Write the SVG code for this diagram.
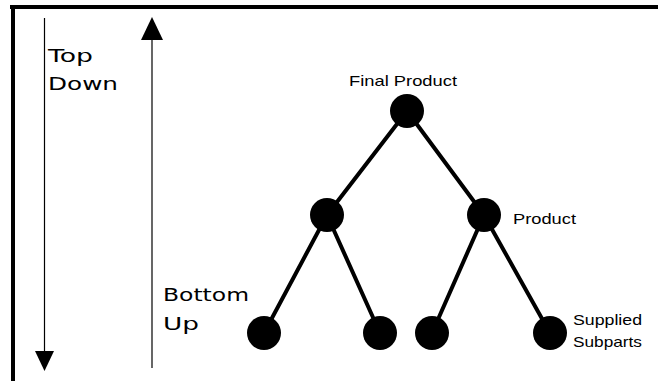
<svg xmlns="http://www.w3.org/2000/svg" width="658" height="381" viewBox="0 0 658 381">
<style>
.frame{fill:#000}
.axis{stroke:#000;stroke-width:1.2;fill:none}
.edge{stroke:#000;stroke-width:4;stroke-linecap:round}
.node{fill:#000}
.big{font-family:"DejaVu Sans",sans-serif;font-size:18px;fill:#000}
.lbl{font-family:"Liberation Sans",Arial,sans-serif;font-size:15px;fill:#000}
</style>
<rect width="658" height="381" fill="#fff"/>
<g id="frame">
<rect class="frame" x="10" y="5" width="648" height="4"/>
<rect class="frame" x="11" y="5" width="4" height="376"/>
</g>
<g id="axes">
<line class="axis" x1="44.5" y1="18" x2="44.5" y2="352"/>
<polygon points="35,351 54,351 44.5,371" fill="#000"/>
<line class="axis" x1="152" y1="38" x2="152" y2="368"/>
<polygon points="141,40 163,40 152,17" fill="#000"/>
<text class="big" x="48" y="62" textLength="45" lengthAdjust="spacingAndGlyphs">Top</text>
<text class="big" x="48" y="90" textLength="70" lengthAdjust="spacingAndGlyphs">Down</text>
<text class="big" x="163" y="301" textLength="86" lengthAdjust="spacingAndGlyphs">Bottom</text>
<text class="big" x="163" y="330" textLength="36" lengthAdjust="spacingAndGlyphs">Up</text>
</g>
<g id="connectors">
<line class="edge" x1="407" y1="111" x2="327" y2="215"/>
<line class="edge" x1="407" y1="111" x2="484" y2="215"/>
<line class="edge" x1="327" y1="215" x2="264" y2="333"/>
<line class="edge" x1="327" y1="215" x2="380" y2="333"/>
<line class="edge" x1="484" y1="215" x2="432" y2="333"/>
<line class="edge" x1="484" y1="215" x2="550" y2="333"/>
</g>
<g id="node-final">
<circle class="node" cx="407" cy="111" r="17"/>
<text class="lbl" x="349" y="86" textLength="108" lengthAdjust="spacingAndGlyphs">Final Product</text>
</g>
<g id="node-mid-left"><circle class="node" cx="327" cy="215" r="17"/></g>
<g id="node-mid-right">
<circle class="node" cx="484" cy="215" r="17"/>
<text class="lbl" x="513" y="224" textLength="63" lengthAdjust="spacingAndGlyphs">Product</text>
</g>
<g id="node-b1"><circle class="node" cx="264" cy="333" r="17"/></g>
<g id="node-b2"><circle class="node" cx="380" cy="333" r="17"/></g>
<g id="node-b3"><circle class="node" cx="432" cy="333" r="17"/></g>
<g id="node-b4">
<circle class="node" cx="550" cy="333" r="17"/>
<text class="lbl" x="573" y="325" textLength="69" lengthAdjust="spacingAndGlyphs">Supplied</text>
<text class="lbl" x="573" y="347" textLength="69" lengthAdjust="spacingAndGlyphs">Subparts</text>
</g>
</svg>
